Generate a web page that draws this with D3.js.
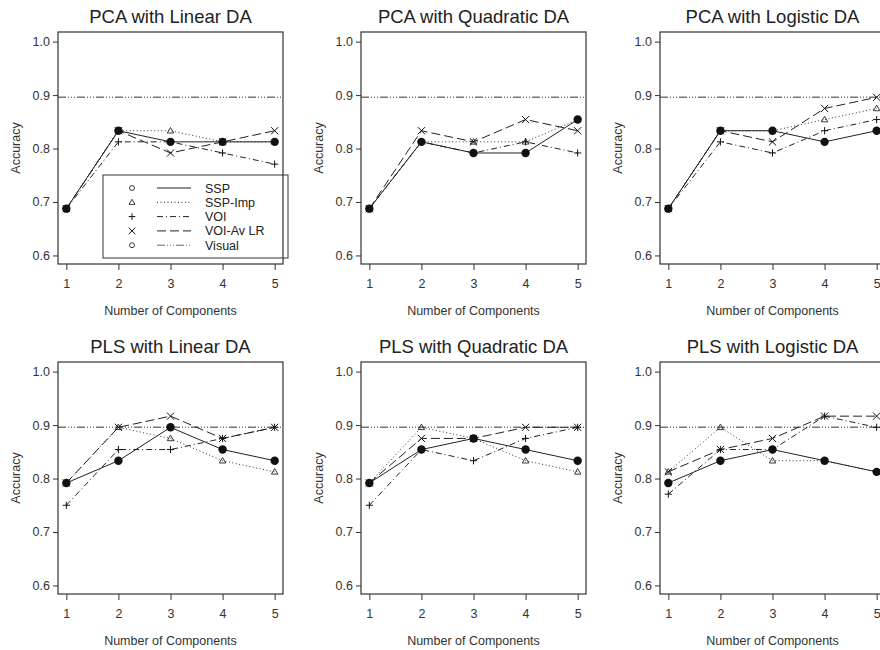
<!DOCTYPE html>
<html>
<head>
<meta charset="utf-8">
<script src="https://cdn.jsdelivr.net/npm/d3@7"></script>
<style>
  body { margin: 0; background: #fff; }
  svg { display: block; font-family: "Liberation Sans", Arial, Helvetica, sans-serif; }
</style>
</head>
<body>
<div id="chart"></div>
<script>
const width = 880;
const height = 650;

const components = [1, 2, 3, 4, 5];
const yTicks = [0.6, 0.7, 0.8, 0.9, 1.0];
const visualAccuracy = 0.8958;

// accuracy per number of components (1..5)
const pcaLinear = {
  ssp:    [0.6875, 0.8333, 0.8125, 0.8125, 0.8125],
  sspImp: [0.6875, 0.8333, 0.8333, 0.8125, 0.8125],
  voi:    [0.6875, 0.8125, 0.8125, 0.7917, 0.7708],
  voiAv:  [0.6875, 0.8333, 0.7917, 0.8125, 0.8333]
};
const pcaQuadratic = {
  ssp:    [0.6875, 0.8125, 0.7917, 0.7917, 0.8542],
  sspImp: [0.6875, 0.8125, 0.8125, 0.8125, 0.8542],
  voi:    [0.6875, 0.8125, 0.7917, 0.8125, 0.7917],
  voiAv:  [0.6875, 0.8333, 0.8125, 0.8542, 0.8333]
};
const pcaLogistic = {
  ssp:    [0.6875, 0.8333, 0.8333, 0.8125, 0.8333],
  sspImp: [0.6875, 0.8333, 0.8333, 0.8542, 0.8750],
  voi:    [0.6875, 0.8125, 0.7917, 0.8333, 0.8542],
  voiAv:  [0.6875, 0.8333, 0.8125, 0.8750, 0.8958]
};
const plsLinear = {
  ssp:    [0.7917, 0.8333, 0.8958, 0.8542, 0.8333],
  sspImp: [0.7917, 0.8958, 0.8750, 0.8333, 0.8125],
  voi:    [0.7500, 0.8542, 0.8542, 0.8750, 0.8958],
  voiAv:  [0.7917, 0.8958, 0.9167, 0.8750, 0.8958]
};
const plsQuadratic = {
  ssp:    [0.7917, 0.8542, 0.8750, 0.8542, 0.8333],
  sspImp: [0.7917, 0.8958, 0.8750, 0.8333, 0.8125],
  voi:    [0.7500, 0.8542, 0.8333, 0.8750, 0.8958],
  voiAv:  [0.7917, 0.8750, 0.8750, 0.8958, 0.8958]
};
const plsLogistic = {
  ssp:    [0.7917, 0.8333, 0.8542, 0.8333, 0.8125],
  sspImp: [0.8125, 0.8958, 0.8333, 0.8333, 0.8125],
  voi:    [0.7708, 0.8542, 0.8542, 0.9167, 0.8958],
  voiAv:  [0.8125, 0.8542, 0.8750, 0.9167, 0.9167]
};

const panels = [
  { title: "PCA with Linear DA", data: pcaLinear, col: 0, row: 0, legend: true },
  { title: "PCA with Quadratic DA", data: pcaQuadratic, col: 1, row: 0 },
  { title: "PCA with Logistic DA", data: pcaLogistic, col: 2, row: 0 },
  { title: "PLS with Linear DA", data: plsLinear, col: 0, row: 1 },
  { title: "PLS with Quadratic DA", data: plsQuadratic, col: 1, row: 1 },
  { title: "PLS with Logistic DA", data: plsLogistic, col: 2, row: 1 }
];

const legendLabels = ["SSP", "SSP-Imp", "VOI", "VOI-Av LR", "Visual"];
const legendKeys = ["ssp", "sspImp", "voi", "voiAv", "visual"];

const styles = {
  ssp:    { dash: null, marker: "dot", legendMarker: "circle" },
  sspImp: { dash: "1,2.5", marker: "triangle", legendMarker: "triangle" },
  voi:    { dash: "6,3,1,3", marker: "plus", legendMarker: "plus" },
  voiAv:  { dash: "9,4", marker: "cross", legendMarker: "cross" },
  visual: { dash: "8,2,1,2,1,2,1,2", marker: null, legendMarker: "circle" }
};

const colLefts = [58, 361, 660];
const rowTops = [32, 362];
const pw = 225;
const ph = 232;

const svg = d3.select("#chart")
  .append("svg")
  .attr("width", width)
  .attr("height", height);

function drawMarker(g, type, cx, cy, s) {
  if (type === "dot") {
    g.append("circle").attr("cx", cx).attr("cy", cy).attr("r", 4.2).attr("fill", "#111");
  } else if (type === "circle") {
    g.append("circle").attr("cx", cx).attr("cy", cy).attr("r", s * 0.75)
      .attr("fill", "none").attr("stroke", "#222").attr("stroke-width", 0.9);
  } else if (type === "triangle") {
    const h = s * 0.9;
    g.append("path")
      .attr("d", `M${cx},${cy - h} L${cx + h},${cy + h * 0.7} L${cx - h},${cy + h * 0.7} Z`)
      .attr("fill", "none").attr("stroke", "#222").attr("stroke-width", 0.9);
  } else if (type === "plus") {
    g.append("path")
      .attr("d", `M${cx - s},${cy} H${cx + s} M${cx},${cy - s} V${cy + s}`)
      .attr("stroke", "#111").attr("stroke-width", 1);
  } else if (type === "cross") {
    g.append("path")
      .attr("d", `M${cx - s},${cy - s} L${cx + s},${cy + s} M${cx - s},${cy + s} L${cx + s},${cy - s}`)
      .attr("stroke", "#111").attr("stroke-width", 1);
  }
}

panels.forEach(p => {
  const left = colLefts[p.col];
  const top = rowTops[p.row];

  const x = d3.scaleLinear().domain([0.84, 5.16]).range([left, left + pw]);
  const y = d3.scaleLinear().domain([0.584, 1.018]).range([top + ph, top]);

  const g = svg.append("g");

  g.append("text")
    .attr("x", left + pw / 2)
    .attr("y", top - 9)
    .attr("text-anchor", "middle")
    .attr("font-size", 18.5)
    .attr("fill", "#222")
    .text(p.title);

  const yAxis = g.append("g")
    .attr("transform", `translate(${left}, 0)`)
    .call(d3.axisLeft(y).tickValues(yTicks).tickFormat(d3.format(".1f")).tickSize(5).tickPadding(3));
  yAxis.select(".domain").remove();
  yAxis.selectAll("line").attr("stroke", "#333");
  yAxis.selectAll("text").attr("font-size", 12.5).attr("fill", "#333")
    .attr("font-family", "Liberation Sans, Arial, sans-serif");

  const xAxis = g.append("g")
    .attr("transform", `translate(0, ${top + ph})`)
    .call(d3.axisBottom(x).tickValues(components).tickFormat(d3.format("d")).tickSize(6).tickPadding(9));
  xAxis.select(".domain").remove();
  xAxis.selectAll("line").attr("stroke", "#333");
  xAxis.selectAll("text").attr("font-size", 12.5).attr("fill", "#333")
    .attr("font-family", "Liberation Sans, Arial, sans-serif");

  g.append("text")
    .attr("x", left + pw / 2)
    .attr("y", top + ph + 51)
    .attr("text-anchor", "middle")
    .attr("font-size", 12.5)
    .attr("fill", "#333")
    .text("Number of Components");

  g.append("text")
    .attr("transform", `translate(${left - 38}, ${top + ph / 2}) rotate(-90)`)
    .attr("text-anchor", "middle")
    .attr("font-size", 12.5)
    .attr("fill", "#333")
    .text("Accuracy");

  // Visual reference line
  g.append("line")
    .attr("x1", left).attr("x2", left + pw)
    .attr("y1", y(visualAccuracy)).attr("y2", y(visualAccuracy))
    .attr("stroke", "#777")
    .attr("stroke-width", 1.6)
    .attr("stroke-dasharray", styles.visual.dash);

  const line = d3.line()
    .x((d, i) => x(components[i]))
    .y(d => y(d));

  ["sspImp", "voi", "voiAv", "ssp"].forEach(key => {
    const values = p.data[key];
    g.append("path")
      .attr("d", line(values))
      .attr("fill", "none")
      .attr("stroke", key === "sspImp" ? "#333" : "#222")
      .attr("stroke-width", 1)
      .attr("stroke-dasharray", styles[key].dash);
    values.forEach((v, i) => drawMarker(g, styles[key].marker, x(components[i]), y(v), 3.6));
  });

  if (p.legend) {
    const lx = left + 45;
    const ly = top + 143;
    const lg = g.append("g");
    lg.append("rect")
      .attr("x", lx).attr("y", ly)
      .attr("width", 185).attr("height", 83)
      .attr("fill", "#fff")
      .attr("stroke", "#333")
      .attr("stroke-width", 1);

    legendKeys.forEach((key, i) => {
      const cy = ly + 13 + i * 14.3;
      drawMarker(lg, styles[key].legendMarker, lx + 29, cy, 3.3);
      lg.append("line")
        .attr("x1", lx + 54).attr("x2", lx + 88)
        .attr("y1", cy).attr("y2", cy)
        .attr("stroke", key === "visual" ? "#666" : "#222")
        .attr("stroke-width", 1)
        .attr("stroke-dasharray", styles[key].dash);
      lg.append("text")
        .attr("x", lx + 102)
        .attr("y", cy)
        .attr("dy", "0.36em")
        .attr("font-size", 12.5)
        .attr("fill", "#222")
        .text(legendLabels[i]);
    });
  }

  g.append("rect")
    .attr("x", left).attr("y", top)
    .attr("width", pw).attr("height", ph)
    .attr("fill", "none")
    .attr("stroke", "#333")
    .attr("stroke-width", 1.2);
});
</script>
</body>
</html>
